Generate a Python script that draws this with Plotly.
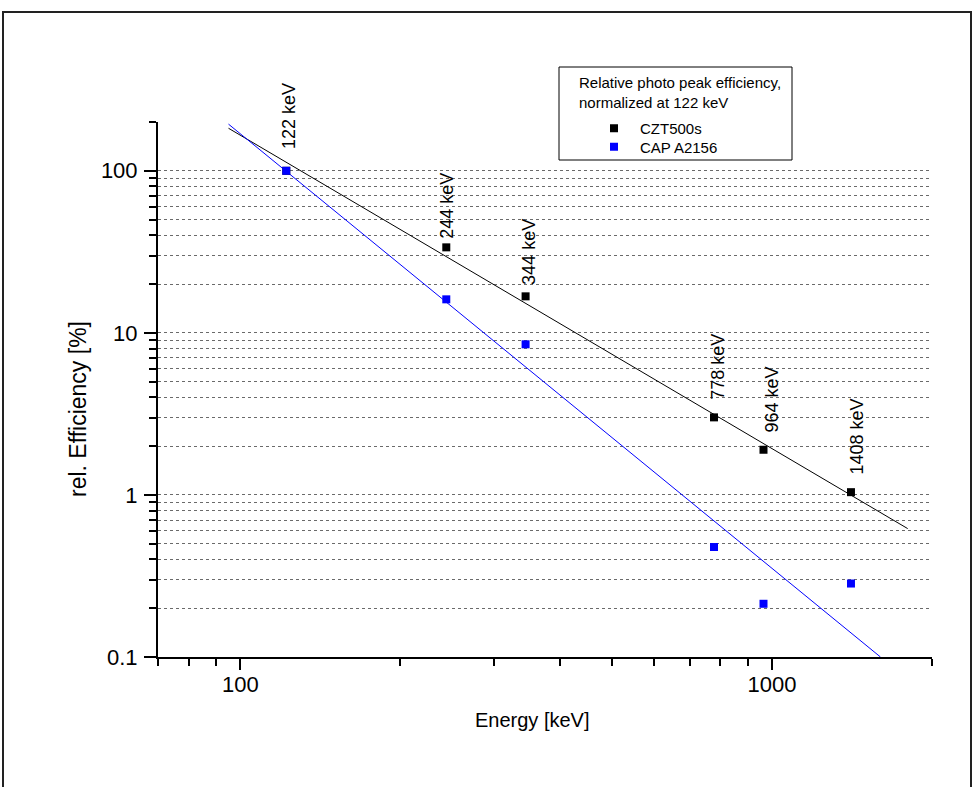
import plotly.graph_objects as go
import math

# ---- data ----
energy_kev = [122, 244, 344, 778, 964, 1408]
czt500s = [100, 33.7, 16.8, 3.01, 1.90, 1.04]
cap_a2156 = [100, 16.1, 8.5, 0.477, 0.213, 0.284]
peak_labels = ["122 keV", "244 keV", "344 keV", "778 keV", "964 keV", "1408 keV"]
label_bottom = [133, 37.2, 19.1, 3.76, 2.34, 1.30]

czt_fit_x = [95, 1800]
czt_fit_y = [183, 0.62]
cap_fit_x = [95, 1600]
cap_fit_y = [194, 0.1]

y_major = [0.1, 1, 10, 100]
y_major_text = ["0.1", "1", "10", "100"]
y_minor = [0.2, 0.3, 0.4, 0.5, 0.6, 0.7, 0.8, 0.9, 2, 3, 4, 5, 6, 7, 8, 9,
           20, 30, 40, 50, 60, 70, 80, 90, 200]
x_major = [100, 1000]
x_major_text = ["100", "1000"]
x_minor = [70, 80, 90, 200, 300, 400, 500, 600, 700, 800, 900, 2000]

# ---- layout constants ----
W, H = 974, 787
ML, MR, MT, MB = 158, 42, 122, 130
PW, PH = W - ML - MR, H - MT - MB

def px(xp):
    return (xp - ML) / PW

def py(yp):
    return (H - MB - yp) / PH

FONT = "Liberation Sans, Arial, sans-serif"
label_xshift = [2, 1, 4, 4, 9, 6]
GRID = "#6a6a6a"

fig = go.Figure()
fig.add_trace(go.Scatter(x=czt_fit_x, y=czt_fit_y, mode="lines",
                         line=dict(color="black", width=1), showlegend=False,
                         hoverinfo="skip"))
fig.add_trace(go.Scatter(x=cap_fit_x, y=cap_fit_y, mode="lines",
                         line=dict(color="#0000ff", width=1), showlegend=False,
                         hoverinfo="skip"))
fig.add_trace(go.Scatter(x=energy_kev, y=czt500s, mode="markers", name="CZT500s",
                         legend="legend",
                         marker=dict(symbol="square", size=8, color="black",
                                     line=dict(width=0))))
fig.add_trace(go.Scatter(x=energy_kev, y=cap_a2156, mode="markers", name="CAP A2156",
                         legend="legend2",
                         marker=dict(symbol="square", size=8, color="#0000ff",
                                     line=dict(width=0))))

annotations = []
for e, lab, yb, xs in zip(energy_kev, peak_labels, label_bottom, label_xshift):
    annotations.append(dict(x=math.log10(e), y=math.log10(yb), xref="x", yref="y",
                            text=lab, textangle=-90, showarrow=False,
                            xanchor="center", yanchor="bottom", xshift=xs,
                            font=dict(family=FONT, size=18, color="black")))

# axis titles
annotations.append(dict(x=px(532), y=py(720), xref="paper", yref="paper",
                        text="Energy [keV]", showarrow=False,
                        xanchor="center", yanchor="middle",
                        font=dict(family=FONT, size=20, color="black")))
annotations.append(dict(x=px(78), y=py(409), xref="paper", yref="paper",
                        text="rel. Efficiency [%]", showarrow=False, textangle=-90,
                        xanchor="center", yanchor="middle",
                        font=dict(family=FONT, size=23, color="black")))
# legend title
annotations.append(dict(x=px(578), y=py(73), xref="paper", yref="paper",
                        text="Relative photo peak efficiency,<br>normalized at 122 keV",
                        showarrow=False, xanchor="left", yanchor="top", align="left",
                        borderpad=0,
                        font=dict(family=FONT, size=15, color="black")))

shapes = [
    # outer frame
    dict(type="rect", xref="paper", yref="paper",
         x0=px(3), x1=px(971), y0=py(795), y1=py(12),
         line=dict(color="#222222", width=2), fillcolor="rgba(0,0,0,0)", layer="below"),
    # legend box
    dict(type="rect", xref="paper", yref="paper",
         x0=px(559), x1=px(792), y0=py(160), y1=py(67),
         line=dict(color="black", width=1), fillcolor="white", layer="above"),
]

legend_common = dict(xanchor="left", yanchor="top", bgcolor="rgba(0,0,0,0)",
                     borderwidth=0, itemwidth=42,
                     font=dict(family=FONT, size=15, color="black"))

fig.update_layout(
    width=W, height=H,
    margin=dict(l=ML, r=MR, t=MT, b=MB, autoexpand=False),
    paper_bgcolor="white", plot_bgcolor="white",
    font=dict(family=FONT, color="black"),
    showlegend=True,
    legend=dict(x=px(588), y=py(112), **legend_common),
    legend2=dict(x=px(588), y=py(130.5), **legend_common),
    annotations=annotations,
    shapes=shapes,
)

fig.update_xaxes(
    type="log", range=[math.log10(70), math.log10(2000)],
    showline=True, linecolor="black", linewidth=2, mirror=False,
    showgrid=False, zeroline=False,
    tickmode="array", tickvals=x_major, ticktext=x_major_text,
    ticks="outside", ticklen=11, tickwidth=2, tickcolor="black",
    ticklabelstandoff=-4,
    tickfont=dict(family=FONT, size=22, color="black"),
    minor=dict(tickmode="array", tickvals=x_minor, ticks="outside", ticklen=7,
               tickwidth=2, tickcolor="black", showgrid=False),
)
fig.update_yaxes(
    type="log", range=[math.log10(0.1), math.log10(200)],
    showline=True, linecolor="black", linewidth=2, mirror=False,
    showgrid=True, gridcolor=GRID, gridwidth=1, griddash="dot",
    zeroline=False,
    tickmode="array", tickvals=y_major, ticktext=y_major_text,
    ticks="outside", ticklen=12, tickwidth=2, tickcolor="black",
    ticklabelstandoff=2,
    tickfont=dict(family=FONT, size=22, color="black"),
    minor=dict(tickmode="array", tickvals=y_minor, ticks="outside", ticklen=7,
               tickwidth=2, tickcolor="black", showgrid=True,
               gridcolor=GRID, gridwidth=1, griddash="dot"),
)

fig.write_html("out.html")
